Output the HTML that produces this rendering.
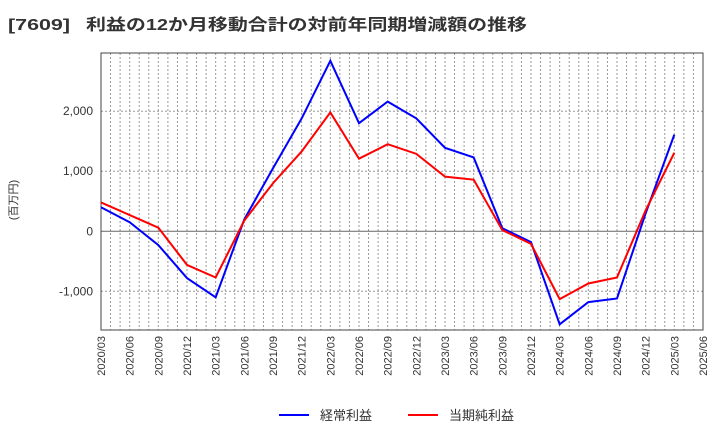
<!DOCTYPE html>
<html><head><meta charset="utf-8"><style>
body{margin:0;background:#fff;font-family:"Liberation Sans","Noto Sans CJK JP",sans-serif;}
</style></head><body>
<svg id="c" width="720" height="440" xmlns="http://www.w3.org/2000/svg">
<g>
<text x="8" y="30" font-size="16" font-weight="bold" fill="#333" textLength="62" lengthAdjust="spacingAndGlyphs">[7609]</text>
<text x="86" y="30" font-size="16" font-weight="bold" fill="#333" textLength="441" lengthAdjust="spacingAndGlyphs">利益の12か月移動合計の対前年同期増減額の推移</text>
</g>
<text transform="translate(17,200) rotate(-90)" font-size="11" fill="#333" text-anchor="middle">(百万円)</text>
<g id="grid"></g><g id="axes"></g><g id="series"></g>
<g>
<line x1="279" y1="415" x2="309" y2="415" stroke="#0000ff" stroke-width="2"/>
<text x="320" y="420" font-size="13" fill="#333">経常利益</text>
<line x1="408" y1="415" x2="438" y2="415" stroke="#ff0000" stroke-width="2"/>
<text x="449" y="420" font-size="13" fill="#333">当期純利益</text>
</g>
</svg>
<script>
const categories=["2020/03","2020/06","2020/09","2020/12","2021/03","2021/06","2021/09","2021/12","2022/03","2022/06","2022/09","2022/12","2023/03","2023/06","2023/09","2023/12","2024/03","2024/06","2024/09","2024/12","2025/03","2025/06"];
const ordinaryProfit=[400,150,-230,-780,-1100,200,1050,1880,2840,1800,2160,1880,1390,1230,50,-180,-1550,-1180,-1120,300,1610];
const netProfit=[480,270,60,-560,-770,180,800,1330,1980,1210,1450,1290,910,860,20,-210,-1130,-870,-770,350,1310];
const yTicks=[-1000,0,1000,2000];
const yTickLabels=["-1,000","0","1,000","2,000"];
const L=101,R=703,T=53,B=330,ymin=-1645,ymax=2970;
const ns="http://www.w3.org/2000/svg";
const step=(R-L)/(categories.length-1);
const x=i=>L+i*step;
const y=v=>B-(v-ymin)/(ymax-ymin)*(B-T);
function mk(tag,attrs,parent){const e=document.createElementNS(ns,tag);for(const k in attrs)e.setAttribute(k,attrs[k]);document.getElementById(parent).appendChild(e);return e;}
for(let m=1;m<(categories.length-1)*3;m++){const xx=L+m*step/3;
const g=mk('line',{x1:xx,x2:xx,y1:T,y2:B,stroke:'#999','stroke-dasharray':'2,2','stroke-width':1},'grid');

}
yTicks.forEach((v,i)=>{const g=mk('line',{x1:L,x2:R,y1:y(v),y2:y(v),stroke:v===0?'#666':'#999','stroke-dasharray':v===0?'':'2,2','stroke-width':1},'grid');


const t=mk('text',{x:L-8,y:y(v)+4,'font-size':12,fill:'#333','text-anchor':'end'},'axes');t.textContent=yTickLabels[i];

});
const fr=mk('rect',{x:L,y:T,width:R-L,height:B-T,fill:'none',stroke:'#444','stroke-width':1},'axes');


categories.forEach((c,i)=>{const t=mk('text',{transform:`translate(${x(i)+4},${B+6}) rotate(-90)`,'font-size':11,fill:'#333','text-anchor':'end'},'axes');t.textContent=c;

});
[[ordinaryProfit,'#0000ff','ordinary-profit-line'],[netProfit,'#ff0000','net-profit-line']].forEach(([d,col,n])=>{
const p=mk('polyline',{points:d.map((v,i)=>x(i)+','+y(v)).join(' '),fill:'none',stroke:col,'stroke-width':2},'series');

});
</script>
</body></html>
